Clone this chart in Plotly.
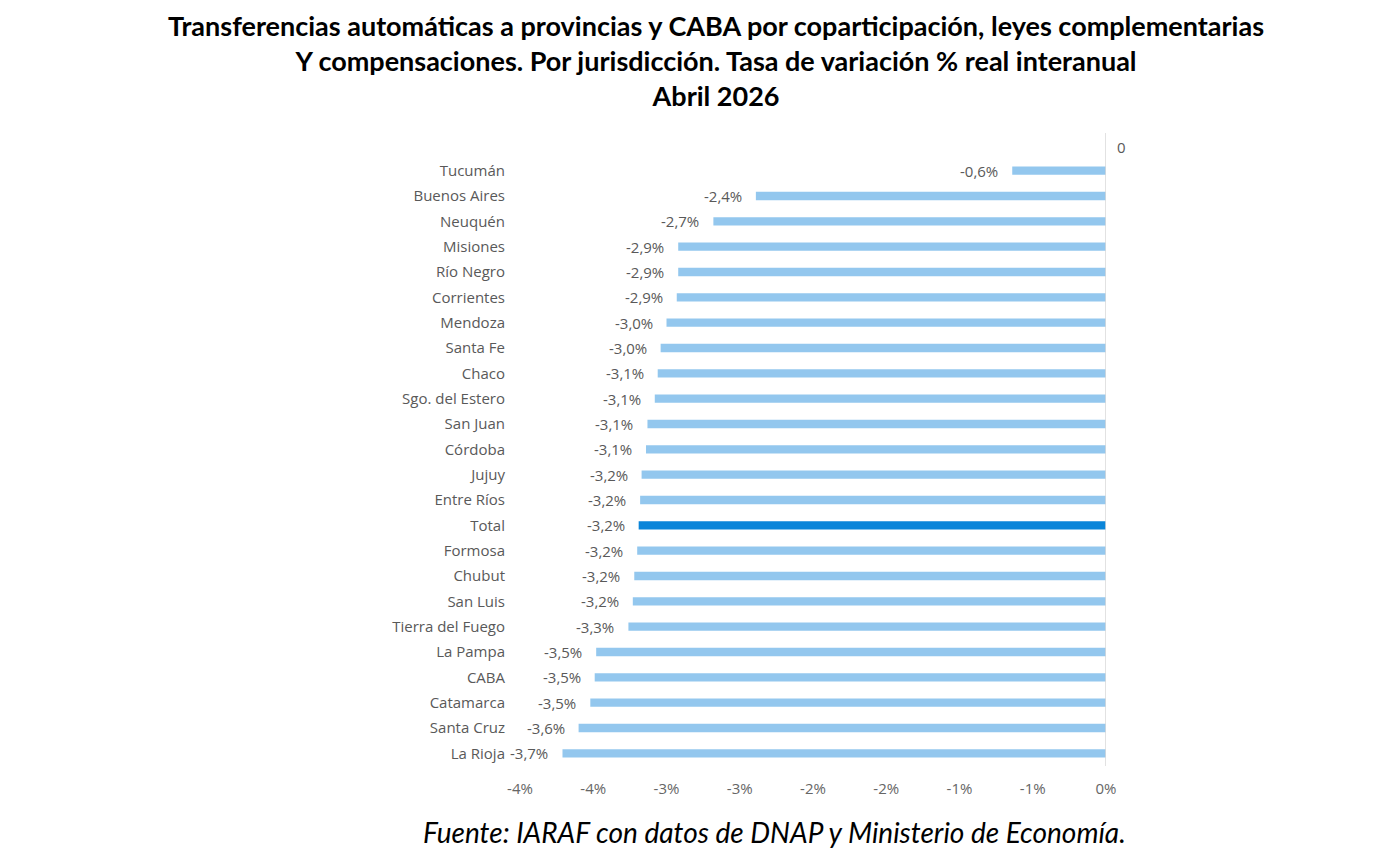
import plotly.graph_objects as go

# Jurisdicciones (de arriba hacia abajo) y variación % real interanual
jurisdicciones = [
    "Tucumán", "Buenos Aires", "Neuquén", "Misiones", "Río Negro", "Corrientes",
    "Mendoza", "Santa Fe", "Chaco", "Sgo. del Estero", "San Juan", "Córdoba",
    "Jujuy", "Entre Ríos", "Total", "Formosa", "Chubut", "San Luis",
    "Tierra del Fuego", "La Pampa", "CABA", "Catamarca", "Santa Cruz", "La Rioja",
]
variacion = [
    -0.64, -2.39, -2.68, -2.92, -2.92, -2.93,
    -3.00, -3.04, -3.06, -3.08, -3.13, -3.14,
    -3.17, -3.18, -3.19, -3.20, -3.22, -3.23,
    -3.26, -3.48, -3.49, -3.52, -3.60, -3.71,
]

tick_vals = [-4.0, -3.5, -3.0, -2.5, -2.0, -1.5, -1.0, -0.5, 0.0]
tick_text = ["-4%", "-4%", "-3%", "-3%", "-2%", "-2%", "-1%", "-1%", "0%"]

colores = ["#0A85D9" if j == "Total" else "#93C7EE" for j in jurisdicciones]

fig = go.Figure()
fig.add_trace(go.Bar(
    x=variacion,
    y=jurisdicciones,
    orientation="h",
    marker=dict(color=colores, line=dict(width=0)),
    width=0.33,
    hoverinfo="x+y",
))

# Etiquetas de datos a la izquierda de cada barra
for j, v in zip(jurisdicciones, variacion):
    fig.add_annotation(
        x=v, y=j, xref="x", yref="y",
        text=f"{v:.1f}%".replace(".", ","),
        showarrow=False, xanchor="right", xshift=-12,
        font=dict(family="Open Sans", size=15, color="#595959"),
    )

# Línea vertical del eje en cero
fig.add_shape(type="line", xref="x", yref="paper", x0=0, x1=0, y0=0, y1=1.041,
              line=dict(color="#D9D9D9", width=1.5))
fig.add_annotation(x=0, y=1.018, xref="x", yref="paper", text="0", showarrow=False,
                   xanchor="left", yanchor="middle", xshift=9,
                   font=dict(family="Open Sans", size=15, color="#595959"))

# Título y fuente
fig.add_annotation(
    x=0.3345, y=1.161, xref="paper", yref="paper", yanchor="middle", showarrow=False,
    text="<b>Transferencias automáticas a provincias y CABA por coparticipación, leyes complementarias<br>"
         "Y compensaciones. Por jurisdicción. Tasa de variación % real interanual<br>Abril 2026</b>",
    font=dict(family="Lato", size=27, color="#000000"),
    align="center",
)
fig.add_annotation(
    x=0.435, y=-0.1086, xref="paper", yref="paper", yanchor="middle", showarrow=False,
    text="<i>Fuente: IARAF con datos de DNAP y Ministerio de Economía.</i>",
    font=dict(family="Lato", size=28, color="#000000"),
)

fig.update_layout(
    width=1382, height=856,
    margin=dict(l=512, r=284, t=150, b=98),
    paper_bgcolor="white", plot_bgcolor="white",
    showlegend=False,
)
fig.update_xaxes(
    range=[-4.0, 0.0], tickvals=tick_vals, ticktext=tick_text,
    showgrid=False, zeroline=False, showline=False,
    tickfont=dict(family="Open Sans", size=15, color="#666666"),
    ticklabelstandoff=12,
)
fig.update_yaxes(
    autorange="reversed", showgrid=False, zeroline=False, showline=False,
    tickfont=dict(family="Open Sans", size=15, color="#595959"),
    ticklabelstandoff=14,
)

fig.write_html("out.html")
